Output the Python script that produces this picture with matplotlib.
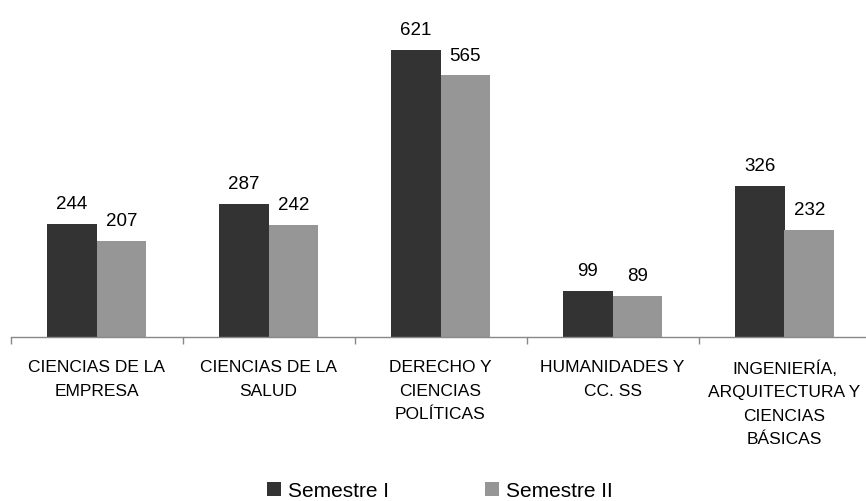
import matplotlib
matplotlib.use("Agg")
import matplotlib.pyplot as plt
import numpy as np

plt.rcParams['font.family'] = ['Liberation Sans', 'DejaVu Sans']

categories = ["CIENCIAS DE LA\nEMPRESA", "CIENCIAS DE LA\nSALUD",
              "DERECHO Y\nCIENCIAS\nPOLÍTICAS", "HUMANIDADES Y\nCC. SS",
              "INGENIERÍA,\nARQUITECTURA Y\nCIENCIAS\nBÁSICAS"]
series_names = ["Semestre I", "Semestre II"]
sem1 = [244, 287, 621, 99, 326]
sem2 = [207, 242, 565, 89, 232]
colors = ["#333333", "#969696"]

fig = plt.figure(figsize=(8.66, 5.02), dpi=100)
ax = fig.add_axes([10.5/866, 1-338/502, 860/866, 324/502])

x = np.arange(len(categories))
w = 0.29
b1 = ax.bar(x - w/2, sem1, w, color=colors[0], label=series_names[0])
b2 = ax.bar(x + w/2, sem2, w, color=colors[1], label=series_names[1])

for bars, vals in ((b1, sem1), (b2, sem2)):
    for r, v in zip(bars, vals):
        ax.annotate(str(v), (r.get_x() + r.get_width()/2, v),
                    xytext=(0, 11.5), textcoords='offset points',
                    ha='center', va='baseline', fontsize=13.5, color='#000000')

ax.set_xlim(-0.5, len(categories) - 0.5)
ax.set_ylim(0, 700)
ax.set_yticks([])
for s in ['top', 'right', 'left']:
    ax.spines[s].set_visible(False)
ax.spines['bottom'].set_color('#888888')
ax.spines['bottom'].set_linewidth(1.0)

ax.set_xticks(np.arange(len(categories) + 1) - 0.5, minor=False)
ax.set_xticklabels([])
ax.tick_params(axis='x', length=5, color='#888888', width=1.0)
ax.set_xticks(x, minor=True)
ax.set_xticklabels(categories, minor=True, fontsize=12.5, linespacing=1.7)
ax.tick_params(axis='x', which='minor', length=0, pad=16)

fig.legend(handles=[b1, b2], labels=series_names, loc='center',
           bbox_to_anchor=(0.508, 1-492/502), ncol=2, frameon=False,
           fontsize=15, handlelength=0.65, handleheight=0.65,
           handletextpad=0.35, columnspacing=4.6)

fig.savefig("out.png", dpi=100)
